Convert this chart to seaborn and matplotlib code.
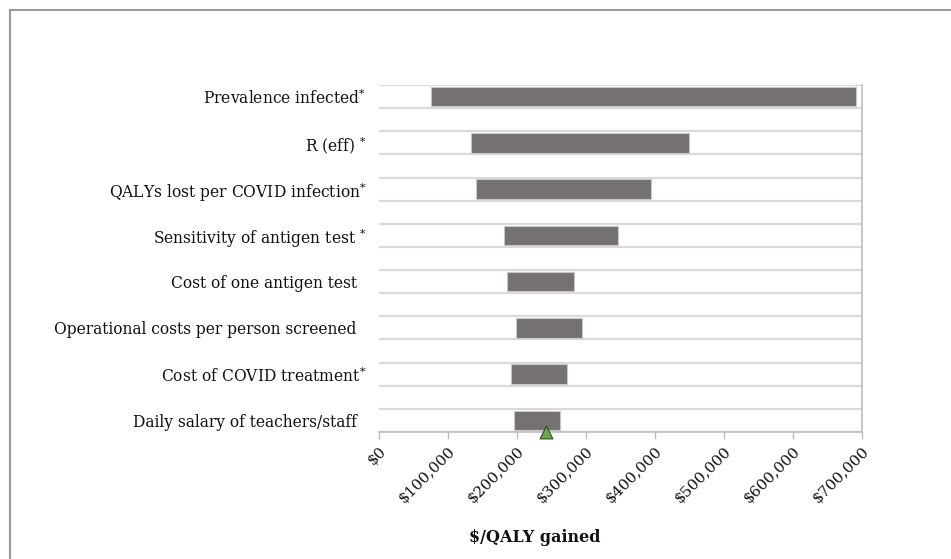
import matplotlib
matplotlib.use("Agg")
import matplotlib.pyplot as plt
import seaborn as sns
import pandas as pd
import numpy as np
from matplotlib.patches import Rectangle
from matplotlib.ticker import FuncFormatter, FixedLocator

# ---- data ----
parameters = [
    "Prevalence infected$^{\\mathbf{*}}$",
    "R (eff) $^{\\mathbf{*}}$",
    "QALYs lost per COVID infection$^{\\mathbf{*}}$",
    "Sensitivity of antigen test $^{\\mathbf{*}}$",
    "Cost of one antigen test  ",
    "Operational costs per person screened  ",
    "Cost of COVID treatment$^{\\mathbf{*}}$",
    "Daily salary of teachers/staff  ",
]
low_values = [75000, 133000, 141000, 181000, 185000, 199000, 191000, 195000]
high_values = [691000, 449000, 394000, 347000, 283000, 294000, 273000, 262000]
base_case = [242000]
x_ticks = [0, 100000, 200000, 300000, 400000, 500000, 600000, 700000]
x_label = "$/QALY gained"

df = pd.DataFrame({"parameter": parameters, "low": low_values, "high": high_values})
df["span"] = df["high"] - df["low"]

sns.set_theme(style="white")
plt.rcParams["font.family"] = ["DejaVu Serif"]
plt.rcParams["mathtext.fontset"] = "custom"
plt.rcParams["mathtext.rm"] = "DejaVu Serif"
plt.rcParams["mathtext.it"] = "DejaVu Serif"
plt.rcParams["mathtext.bf"] = "DejaVu Serif"

W, H = 951, 559
fig = plt.figure(figsize=(W / 100, H / 100), dpi=100)
ax = fig.add_axes([379 / W, 1 - 432 / H, (862 - 379) / W, (432 - 85) / H])

ypos = np.arange(len(df))
ax.barh(ypos, df["span"], left=df["low"], height=0.42, color="#767171",
        edgecolor="#c8c8c8", linewidth=0.8, zorder=3)

sns.scatterplot(x=base_case, y=[len(df) - 0.75], marker="^", s=85, color="#6aa84f",
                edgecolor="#2e4a1e", linewidth=0.8, ax=ax, zorder=5, clip_on=False)

ax.set_xlim(0, 700000)
ax.set_ylim(len(df) - 0.75, -0.25)
ax.set_yticks(ypos)
ax.set_yticklabels(df["parameter"], fontsize=11.2, color="#111111")
ax.yaxis.set_minor_locator(FixedLocator(np.arange(-0.25, len(df), 0.5)))
ax.grid(False)
ax.grid(which="minor", axis="y", color="#d9d9d9", linewidth=1.6, zorder=0)
ax.tick_params(axis="y", which="both", length=0, pad=9)

ax.set_xticks(x_ticks)
ax.xaxis.set_major_formatter(FuncFormatter(lambda v, p: f"${int(v):,}"))
plt.setp(ax.get_xticklabels(), rotation=45, ha="right", rotation_mode="anchor",
         fontsize=11, color="#111111")
ax.tick_params(axis="x", which="major", bottom=True, length=5, width=1,
               color="#bdbdbd", pad=4, direction="out")

for s in ["left", "top"]:
    ax.spines[s].set_visible(False)
for s in ["bottom", "right"]:
    ax.spines[s].set_visible(True)
    ax.spines[s].set_color("#bdbdbd")
    ax.spines[s].set_linewidth(1.2)

fig.text(535 / W, 1 - 538 / H, x_label, ha="center", va="center",
         fontsize=11.5, fontweight="bold", color="#111111")

fig.patches.append(Rectangle((10 / W, -0.2), 1.2, 1.2 - 10 / H, transform=fig.transFigure,
                             fill=False, edgecolor="#9a9a9a", linewidth=1.5))

fig.savefig("out.png", dpi=100, facecolor="white")
